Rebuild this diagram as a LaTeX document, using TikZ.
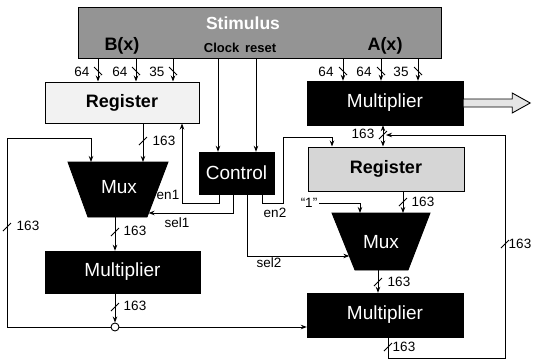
\documentclass[tikz,border=0pt]{standalone}
\usepackage{fontspec}
\setmainfont{Liberation Sans}
\usetikzlibrary{arrows.meta,calc}
\begin{document}
\begin{tikzpicture}[x=1pt,y=-1pt,
  every node/.style={inner sep=0pt},
  wire/.style={line width=0.9pt},
  arr/.style={wire,-{Stealth[length=6pt,width=4.5pt]}},
  blk/.style={draw=black,fill=black,text=white,font=\fontsize{19}{19}\selectfont},
  regbox/.style={draw=black,line width=1pt,font=\bfseries\fontsize{18}{18}\selectfont},
  lbl/.style={font=\fontsize{13.5}{14}\selectfont},
  busmark/.pic={\draw[wire] (-4,-4) -- (4,4);},
  busmarkb/.pic={\draw[wire] (-4,4) -- (4,-4);},
]
\useasboundingbox (0,0) rectangle (536,360);
\fill[white] (0,0) rectangle (536,360);

% ---- boxes ----
\node[draw=black, line width=1pt, fill=black!42, minimum width=363pt, minimum height=51pt] (stim) at (259.5,32.5) {};
\node[text=white,font=\bfseries\fontsize{17.5}{18}\selectfont] (stimt) at (243,23) {Stimulus};
\node[font=\bfseries\fontsize{18}{18}\selectfont] (bx) at (122,46) {B(x)};
\node[font=\bfseries\fontsize{18}{18}\selectfont] (ax) at (385,46) {A(x)};
\node[font=\bfseries\fontsize{13}{13}\selectfont] (clkt) at (240,48) {Clock\, reset};

\node[regbox, fill=black!5, minimum width=154pt, minimum height=41pt] (regB) at (122,102.5) {Register};
\node[blk, minimum width=156pt, minimum height=44pt] (multA) at (385,103) {Multiplier};
\node[blk, minimum width=75pt, minimum height=42pt] (ctrl) at (236.5,173) {Control};
\node[regbox, fill=black!16, minimum width=156pt, minimum height=44pt] (reg2) at (386,169) {Register};
\node[blk, minimum width=155pt, minimum height=42pt] (mult1) at (122.5,272) {Multiplier};
\node[blk, minimum width=156pt, minimum height=44pt] (mult2) at (385,315) {Multiplier};

% muxes
\coordinate (m1tl) at (68,162); \coordinate (m1tr) at (168,162);
\coordinate (m1br) at (147,217); \coordinate (m1bl) at (88,217);
\filldraw[wire] (m1tl) -- (m1tr) -- (m1br) -- (m1bl) -- cycle;
\node[text=white,font=\fontsize{19}{19}\selectfont] (mux1) at (119,187) {Mux};
\coordinate (m2tl) at (332,213); \coordinate (m2tr) at (430,213);
\coordinate (m2br) at (408,270); \coordinate (m2bl) at (355,270);
\filldraw[wire] (m2tl) -- (m2tr) -- (m2br) -- (m2bl) -- cycle;
\node[text=white,font=\fontsize{19}{19}\selectfont] (mux2) at (381,242) {Mux};

% hollow output arrow
\begin{scope}[shift={(multA.east)}]
\draw[line width=0.9pt, fill=black!10] (0,-4) -- (49,-4) -- (49,-10) -- (67,0) -- (49,10) -- (49,4) -- (0,4) -- cycle;
\end{scope}

% junction
\node[circle, draw=black, line width=0.9pt, fill=white, minimum size=8pt] (jn) at (115,327) {};

% x positions
\coordinate (xb1) at (98,0); \coordinate (xb2) at (136,0); \coordinate (xb3) at (173,0);
\coordinate (xa1) at (343,0); \coordinate (xa2) at (381,0); \coordinate (xa3) at (418,0);
\coordinate (xclk) at (218,0); \coordinate (xrst) at (256,0);
\coordinate (xrb) at (143,0); \coordinate (xm1) at (115,0);
\coordinate (xe1) at (219,0); \coordinate (xs1) at (233,0);
\coordinate (xs2) at (247,0); \coordinate (xe2) at (262,0);
\coordinate (xma) at (383,0); \coordinate (xr2) at (403,0);
\coordinate (xm2) at (378,0); \coordinate (xo2) at (388,0);
\coordinate (xfb) at (91,0);

% ---- stimulus buses ----
\foreach \c in {xb1,xb2,xb3}{\draw[arr] (stim.south -| \c) -- (regB.north -| \c);}
\foreach \c in {xa1,xa2,xa3}{\draw[arr] (stim.south -| \c) -- (multA.north -| \c);}
\pic at (98,71) {busmark}; \pic at (136,71) {busmark}; \pic at (173,71) {busmark};
\pic at (343,71) {busmark}; \pic at (381,71) {busmark}; \pic at (418,71) {busmark};
\node[lbl] (l64a) at (82,72) {64}; \node[lbl] (l64b) at (120,72) {64}; \node[lbl] (l35a) at (157,72) {35};
\node[lbl] (l64c) at (326,72) {64}; \node[lbl] (l64d) at (364,72) {64}; \node[lbl] (l35b) at (401,72) {35};

\draw[arr] (stim.south -| xclk) -- (ctrl.north -| xclk);
\draw[arr] (stim.south -| xrst) -- (ctrl.north -| xrst);

% ---- left datapath ----
\draw[arr] (regB.south -| xrb) -- (m1tl -| xrb);
\pic at (143,141) {busmarkb}; \node[lbl] (l163a) at (164,141) {163};
\draw[arr] (m1bl -| xm1) -- (mult1.north -| xm1);
\pic at (115,232) {busmarkb}; \node[lbl] (l163b) at (135,231) {163};
\draw[arr] (mult1.south -| xm1) -- (jn.north);
\pic at (115,307) {busmarkb}; \node[lbl] (l163c) at (135,306) {163};

\coordinate (fbl) at (7,138); \coordinate (fbl2) at (91,138);
\draw[arr] (jn.west) -| (fbl) -- (fbl2) -- (fbl2 |- m1tl);
\pic at (7,227) {busmarkb}; \node[lbl] (l163d) at (28,226) {163};
\draw[arr] (jn.east) -- (mult2.west |- jn);

% ---- control signals ----
\coordinate (en1a) at (182,203);
\draw[arr] (ctrl.south -| xe1) |- (en1a) -- (regB.south -| en1a);
\node[lbl] (en1) at (168,195) {en1};
\coordinate (s1end) at ($(m1tr)!0.927!(m1br)$);
\draw[arr] (ctrl.south -| xs1) |- (s1end);
\node[lbl] (sel1) at (177,223) {sel1};
\coordinate (s2end) at ($(m2tl)!0.754!(m2bl)$);
\draw[arr] (ctrl.south -| xs2) |- (s2end);
\node[lbl] (sel2) at (269,263) {sel2};
\coordinate (en2a) at (283,203); \coordinate (en2b) at (332,137);
\draw[arr] (ctrl.south -| xe2) |- (en2a) |- (en2b) -- (reg2.north -| en2b);
\node[lbl] (en2) at (275,213) {en2};

% ---- right datapath ----
\draw[wire,{Stealth[length=6pt,width=4.5pt]}-{Stealth[length=6pt,width=4.5pt]}] (multA.south -| xma) -- (reg2.north -| xma);
\pic at (383,135) {busmarkb}; \node[lbl] (l163e) at (363,134) {163};
\node[lbl] (one) at (309,203) {“1”};
\coordinate (onec) at (360,203);
\draw[arr] (one.east) ++(2,0) -- (onec) -- (onec |- m2tl);
\draw[arr] (reg2.south -| xr2) -- (m2tl -| xr2);
\pic at (403,202) {busmarkb}; \node[lbl] (l163f) at (423,202) {163};
\draw[arr] (m2bl -| xm2) -- (mult2.north -| xm2);
\pic at (378,282) {busmarkb}; \node[lbl] (l163g) at (399,282) {163};

\coordinate (fbr) at (505,358); \coordinate (fbr2) at (386,135);
\draw[arr] (mult2.south -| xo2) |- (fbr) -- (fbr |- fbr2) -- (fbr2);
\pic at (388,347) {busmarkb}; \node[lbl] (l163h) at (404,347) {163};
\pic at (505,244) {busmarkb}; \node[lbl] (l163i) at (520,244) {163};
\end{tikzpicture}
\end{document}
